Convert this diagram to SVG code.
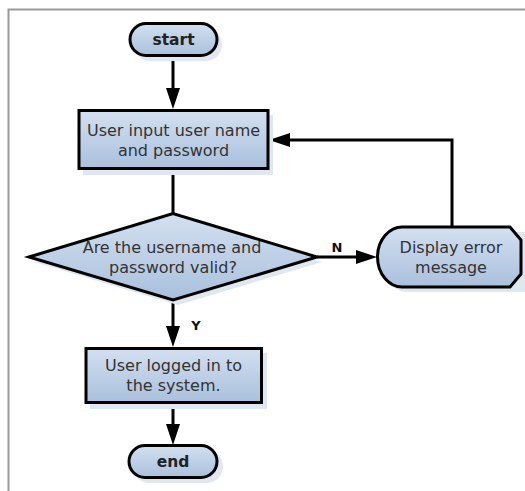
<svg xmlns="http://www.w3.org/2000/svg" width="525" height="491" viewBox="0 0 525 491">
<defs>
<linearGradient id="g" x1="0" y1="0" x2="0" y2="1">
<stop offset="0" stop-color="#d3e0f0"/>
<stop offset="1" stop-color="#a9c0dc"/>
</linearGradient>
<style>
.shape{fill:url(#g);stroke:#000;stroke-width:3}
.shadow{fill:#dfe7f1;stroke:none}
.t{font-family:"DejaVu Sans",Verdana,sans-serif;font-size:16px;fill:#333;text-anchor:middle}
.b{font-weight:bold;font-size:15.5px;fill:#222}
.conn{stroke:#000;stroke-width:3;fill:none}
.head{fill:#000}
.lbl{font-family:"DejaVu Sans",Verdana,sans-serif;font-size:13px;font-weight:bold;fill:#111}
</style>
</defs>
<rect width="525" height="491" fill="#fff"/>
<path d="M8.5,491 V9.5 H525" fill="none" stroke="#999" stroke-width="2"/>
<g id="connectors">
<line class="conn" x1="173" y1="56" x2="173" y2="90"/>
<path class="head" d="M166,88 L180,88 L173,109 Z"/>
<line class="conn" x1="173" y1="169" x2="173" y2="213"/>
<line class="conn" x1="317" y1="257" x2="358" y2="257"/>
<path class="head" d="M356,250 L356,264 L377,257 Z"/>
<path class="conn" d="M452,226 V140 H288"/>
<path class="head" d="M290,133 L290,147 L269,140 Z"/>
<line class="conn" x1="173" y1="300" x2="173" y2="328"/>
<path class="head" d="M166,326 L180,326 L173,347 Z"/>
<line class="conn" x1="173" y1="403" x2="173" y2="426"/>
<path class="head" d="M166,424 L180,424 L173,445 Z"/>
<text class="lbl" x="337" y="252" text-anchor="middle">N</text>
<text class="lbl" x="196" y="330" text-anchor="middle">Y</text>
</g>
<g id="start">
<rect class="shadow" x="134" y="28" width="88" height="33" rx="16.5"/>
<rect class="shape" x="130" y="23.5" width="87" height="32" rx="16"/>
<text class="t b" x="173.5" y="45">start</text>
</g>
<g id="input">
<rect class="shadow" x="83" y="115" width="190" height="60"/>
<rect class="shape" x="79" y="110.5" width="189" height="58"/>
<text class="t" x="173.5" y="136">User input user name</text>
<text class="t" x="173.5" y="156">and password</text>
</g>
<g id="decision">
<path class="shadow" d="M34,262 L178,218 L322,262 L178,305 Z"/>
<path class="shape" d="M29,257 L173,213.5 L317,257 L173,300 Z"/>
<text class="t" x="172" y="253">Are the username and</text>
<text class="t" x="173" y="273">password valid?</text>
</g>
<g id="error">
<path class="shadow" d="M383,262 C383,244 395,232 406,232 H525 V292 H406 C395,292 383,280 383,262 Z"/>
<path class="shape" d="M377.5,257 C377.5,239 390,227 402,227 H510 L521,240 V274 L510,287 H402 C390,287 377.5,275 377.5,257 Z"/>
<text class="t" x="451" y="253">Display error</text>
<text class="t" x="451" y="273">message</text>
</g>
<g id="logged">
<rect class="shadow" x="90" y="353" width="177" height="56"/>
<rect class="shape" x="86" y="348.5" width="175.5" height="54"/>
<text class="t" x="173.5" y="371">User logged in to</text>
<text class="t" x="173.5" y="391">the system.</text>
</g>
<g id="end">
<rect class="shadow" x="133" y="450" width="90" height="33" rx="16.5"/>
<rect class="shape" x="129" y="445.5" width="88" height="32" rx="16"/>
<text class="t b" x="173" y="467">end</text>
</g>
</svg>
